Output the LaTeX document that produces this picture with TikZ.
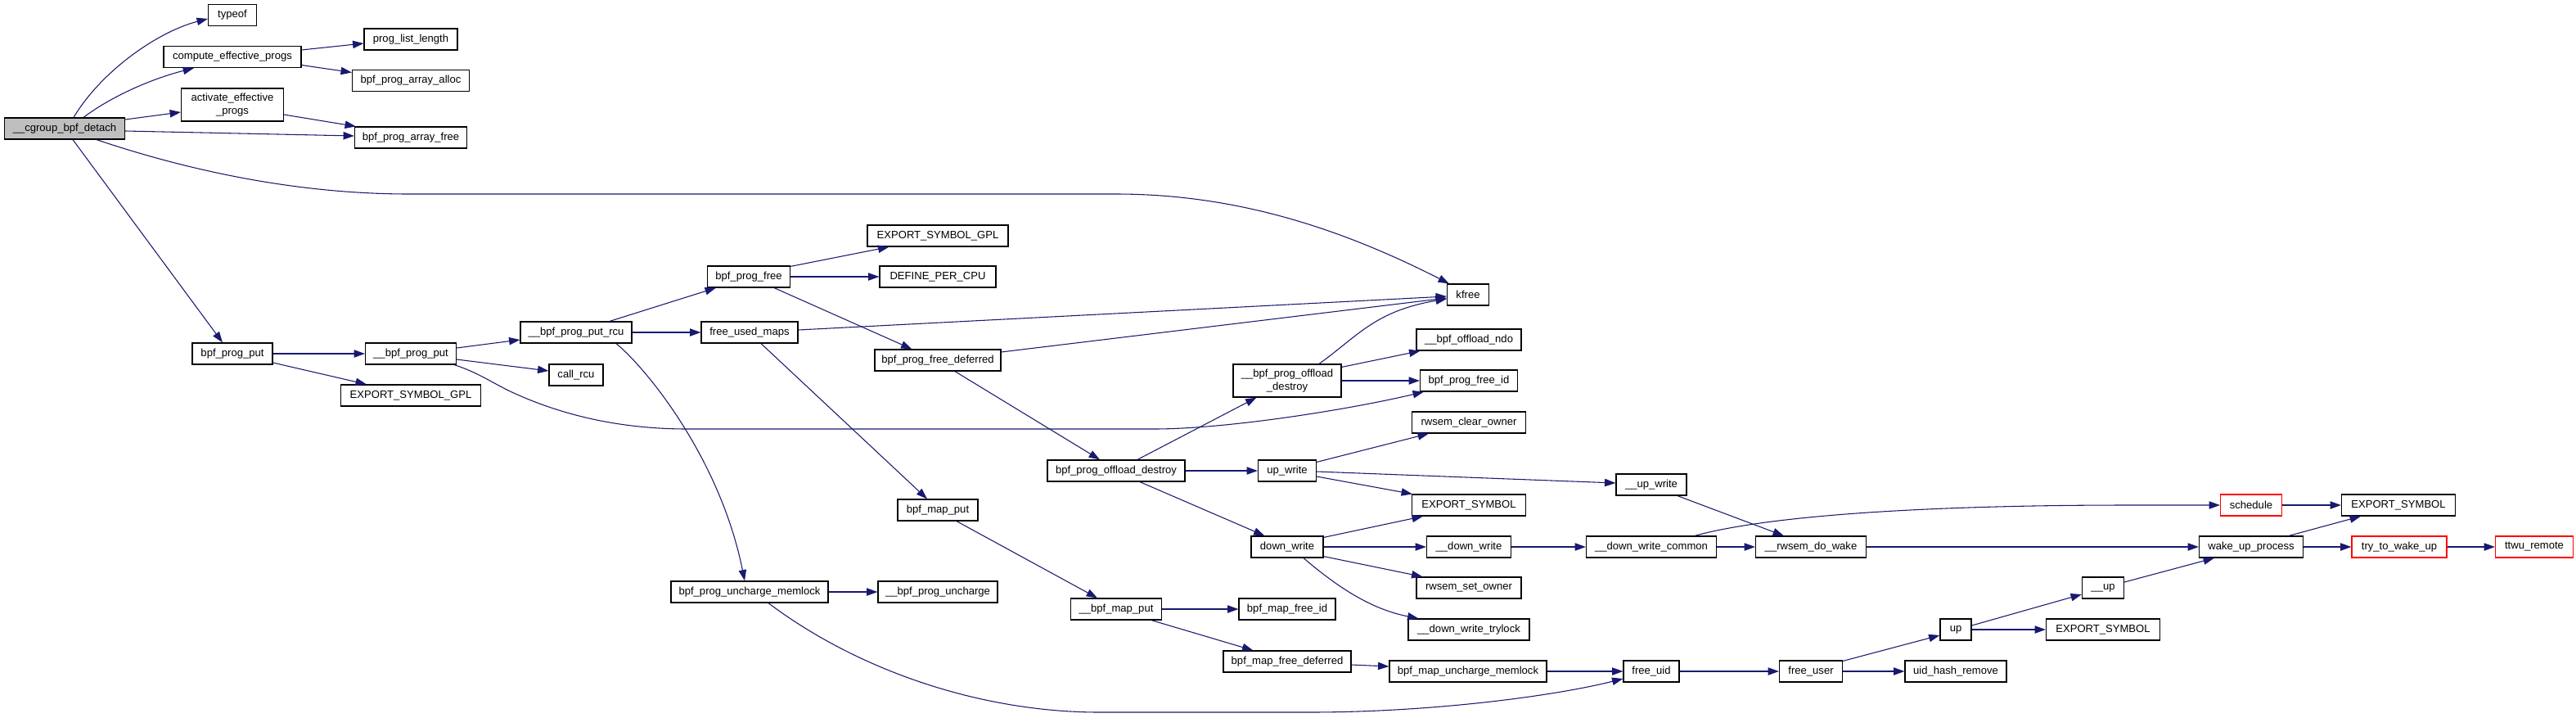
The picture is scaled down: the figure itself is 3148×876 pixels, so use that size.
\documentclass[tikz,border=0pt]{standalone}
\usepackage{fontspec}
\setmainfont{Liberation Sans}
\usetikzlibrary{calc,arrows.meta}
\definecolor{edgeblue}{HTML}{191970}
\definecolor{rootgray}{HTML}{BFBFBF}
\begin{document}
\begin{tikzpicture}[x=0.75pt,y=-0.75pt,
  fn/.style={draw=black,line width=0.9pt,fill=white,minimum height=19.5pt,inner sep=0pt,
    font=\fontsize{9.8}{12.5}\selectfont,text=black,align=center},
  rootfn/.style={fn,fill=rootgray},
  redfn/.style={fn,draw=red},
  twoline/.style={minimum height=30pt},
  call/.style={draw=edgeblue,line width=0.8pt,-{Triangle[length=10pt,width=7pt]},fill=none}]
\useasboundingbox (0,0) rectangle (3148,876);
% nodes
\node[rootfn,minimum width=110.25pt] (cgroup) at (79,157) {\_\_cgroup\_bpf\_detach};
\node[fn,minimum width=44.25pt] (typeof) at (284,18.5) {typeof};
\node[fn,minimum width=126pt] (compute) at (284,69.5) {compute\_effective\_progs};
\node[fn,twoline,minimum width=93.75pt] (activate) at (284,128) {activate\_effective\\\_progs};
\node[fn,minimum width=85.5pt] (plistlen) at (502,48) {prog\_list\_length};
\node[fn,minimum width=107.25pt] (alloc) at (502,98.5) {bpf\_prog\_array\_alloc};
\node[fn,minimum width=102.75pt] (afree) at (502,168) {bpf\_prog\_array\_free};
\node[fn,minimum width=73.5pt] (bpput) at (284,432) {bpf\_prog\_put};
\node[fn,minimum width=83.25pt] (ubpput) at (502,432) {\_\_bpf\_prog\_put};
\node[fn,minimum width=102pt] (rcu) at (704,406) {\_\_bpf\_prog\_put\_rcu};
\node[fn,minimum width=49.5pt] (callrcu) at (704,458) {call\_rcu};
\node[fn,minimum width=128.25pt] (esg1) at (502,483) {EXPORT\_SYMBOL\_GPL};
\node[fn,minimum width=129pt] (esg2) at (1146,288) {EXPORT\_SYMBOL\_GPL};
\node[fn,minimum width=75.75pt] (pfree) at (915,338) {bpf\_prog\_free};
\node[fn,minimum width=106.5pt] (defcpu) at (1146,338) {DEFINE\_PER\_CPU};
\node[fn,minimum width=88.5pt] (fum) at (916,406) {free\_used\_maps};
\node[fn,minimum width=115.5pt] (pfd) at (1146,440) {bpf\_prog\_free\_deferred};
\node[fn,minimum width=38.25pt] (kfree) at (1794,360) {kfree};
\node[fn,minimum width=96pt] (ndo) at (1795,415) {\_\_bpf\_offload\_ndo};
\node[fn,minimum width=126pt] (pod) at (1364,575) {bpf\_prog\_offload\_destroy};
\node[fn,twoline,minimum width=99pt] (ubpod) at (1573,465) {\_\_bpf\_prog\_offload\\\_destroy};
\node[fn,minimum width=73.5pt] (mput) at (1146,623) {bpf\_map\_put};
\node[fn,minimum width=144pt] (pum) at (916,723) {bpf\_prog\_uncharge\_memlock};
\node[fn,minimum width=109.5pt] (puc) at (1146,723) {\_\_bpf\_prog\_uncharge};
\node[fn,minimum width=83.25pt] (umput) at (1364,744) {\_\_bpf\_map\_put};
\node[fn,minimum width=53.25pt] (upw) at (1573,575) {up\_write};
\node[fn,minimum width=66pt] (downw) at (1573,668) {down\_write};
\node[fn,minimum width=88.5pt] (mfid) at (1573,744) {bpf\_map\_free\_id};
\node[fn,minimum width=117pt] (mfd) at (1573,808) {bpf\_map\_free\_deferred};
\node[fn,minimum width=89.25pt] (pfid) at (1795,465) {bpf\_prog\_free\_id};
\node[fn,minimum width=104.25pt] (rco) at (1795,516) {rwsem\_clear\_owner};
\node[fn,minimum width=64.5pt] (uupw) at (2018,592) {\_\_up\_write};
\node[fn,minimum width=104.25pt] (es1) at (1795,617) {EXPORT\_SYMBOL};
\node[fn,minimum width=77.25pt] (udw) at (1795,668) {\_\_down\_write};
\node[fn,minimum width=119.25pt] (udwc) at (2018,668) {\_\_down\_write\_common};
\node[fn,minimum width=101.25pt] (rdw) at (2213,668) {\_\_rwsem\_do\_wake};
\node[fn,minimum width=96pt] (rso) at (1795,718) {rwsem\_set\_owner};
\node[fn,minimum width=111pt] (dwt) at (1795,769) {\_\_down\_write\_trylock};
\node[fn,minimum width=144pt] (mum) at (1794,820) {bpf\_map\_uncharge\_memlock};
\node[fn,minimum width=51pt] (fuid) at (2018,820) {free\_uid};
\node[fn,minimum width=57.75pt] (fuser) at (2213,820) {free\_user};
\node[fn,minimum width=93pt] (uhr) at (2390,820) {uid\_hash\_remove};
\node[redfn,minimum width=56.25pt] (sched) at (2751,617) {schedule};
\node[fn,minimum width=104.25pt] (es2) at (2931,617) {EXPORT\_SYMBOL};
\node[fn,minimum width=95.25pt] (wup) at (2751,668) {wake\_up\_process};
\node[redfn,minimum width=87pt] (ttwu) at (2932,668) {try\_to\_wake\_up};
\node[redfn,minimum width=71.25pt] (ttwur) at (3097,668) {ttwu\_remote};
\node[fn,minimum width=38.25pt] (uup) at (2570,718) {\_\_up};
\node[fn,minimum width=28.5pt] (up) at (2390,769) {up};
\node[fn,minimum width=104.25pt] (es3) at (2570,769) {EXPORT\_SYMBOL};
% edges
\draw[call] ($(cgroup.north)+(11,0)$) .. controls (125,85) and (195,38) .. ($(typeof.west)+(0,4.5)$);
\draw[call] ($(cgroup.north)+(23,0)$) .. controls (140,115) and (190,95) .. ($(compute.south)+(-47,0)$);
\draw[call] ($(cgroup.east)+(0,-11)$) -- ($(activate.west)+(0,9)$);
\draw[call] ($(cgroup.east)+(0,3)$) -- ($(afree.west)+(0,-2)$);
\draw[call] ($(activate.east)+(0,12)$) -- ($(afree.north west)+(2,0)$);
\draw[call] ($(compute.east)+(0,-8.5)$) -- ($(plistlen.west)+(0,5)$);
\draw[call] ($(compute.east)+(0,10)$) -- ($(alloc.west)+(0,-10)$);
\draw[call] ($(cgroup.south)+(39,0)$) .. controls (250,215) and (380,237) .. (500,237) -- (1364,237) .. controls (1520,237) and (1650,285) .. ($(kfree.north west)+(3,0)$);
\draw[call] ($(cgroup.south)+(10,0)$) -- ($(bpput.north)+(-12,0)$);
\draw[call] (bpput.east) -- (ubpput.west);
\draw[call] ($(bpput.east)+(0,11)$) -- ($(esg1.north west)+(32,0)$);
\draw[call] ($(ubpput.east)+(0,-7)$) -- ($(rcu.west)+(0,9)$);
\draw[call] ($(ubpput.east)+(0,7)$) -- ($(callrcu.west)+(0,-5)$);
\draw[call] ($(ubpput.south east)+(-3,0)$) .. controls (585,455) and (605,470) .. (630,481) .. controls (690,508) and (760,524) .. (840,524) -- (1410,524) .. controls (1500,524) and (1650,500) .. ($(pfid.south west)+(5,0)$);
\draw[call] ($(rcu.north)+(41,0)$) -- ($(pfree.south west)+(11,0)$);
\draw[call] (rcu.east) -- (fum.west);
\draw[call] ($(rcu.south)+(49,0)$) .. controls (790,450) and (880,560) .. ($(pum.north)+(-6,0)$);
\draw[call] ($(pfree.north east)+(0,1)$) -- ($(esg2.south west)+(27,0)$);
\draw[call] (pfree.east) -- (defcpu.west);
\draw[call] ($(pfree.south east)+(-20,0)$) -- ($(pfd.north west)+(46,0)$);
\draw[call] ($(fum.east)+(0,-3)$) -- ($(kfree.west)+(0,2)$);
\draw[call] ($(pfd.east)+(0,-10)$) -- ($(kfree.west)+(0,4)$);
\draw[call] ($(fum.south)+(14,0)$) -- ($(mput.north)+(-13,0)$);
\draw[call] ($(pfd.south)+(21,0)$) -- ($(pod.north)+(-20,0)$);
\draw[call] ($(mput.south)+(23,0)$) -- ($(umput.north)+(-23,0)$);
\draw[call] (pum.east) -- (puc.west);
\draw[call] ($(pum.south)+(23,0)$) .. controls (1050,820) and (1200,870) .. (1344,870) -- (1600,870) .. controls (1750,870) and (1900,850) .. ($(fuid.west)+(0,9)$);
\draw[call] ($(pod.north)+(26,0)$) -- ($(ubpod.south west)+(29,0)$);
\draw[call] (pod.east) -- (upw.west);
\draw[call] ($(pod.south)+(29,0)$) -- ($(downw.north west)+(17,0)$);
\draw[call] (umput.east) -- (mfid.west);
\draw[call] ($(umput.south east)+(-13,0)$) -- ($(mfd.north west)+(37,0)$);
\draw[call] ($(ubpod.north)+(39,0)$) .. controls (1660,410) and (1680,380) .. ($(kfree.west)+(0,5)$);
\draw[call] ($(ubpod.north east)+(0,4)$) -- ($(ndo.south west)+(5,0)$);
\draw[call] (ubpod.east) -- (pfid.west);
\draw[call] ($(upw.north east)+(0,3)$) -- ($(rco.south west)+(21,0)$);
\draw[call] ($(upw.east)+(0,1)$) -- ($(uupw.west)+(0,-2)$);
\draw[call] ($(upw.east)+(0,7)$) -- ($(es1.north west)+(1,0)$);
\draw[call] ($(downw.north east)+(0,2)$) -- ($(es1.south west)+(14,0)$);
\draw[call] (downw.east) -- (udw.west);
\draw[call] ($(downw.south east)+(0,-2)$) -- ($(rso.north west)+(8,0)$);
\draw[call] ($(downw.south)+(20,0)$) .. controls (1640,722) and (1680,745) .. ($(dwt.north west)+(13,0)$);
\draw[call] (udw.east) -- (udwc.west);
\draw[call] (udwc.east) -- (rdw.west);
\draw[call] ($(udwc.north)+(53,0)$) .. controls (2160,630) and (2350,617) .. (2600,617) -- (sched.west);
\draw[call] ($(uupw.south)+(32,0)$) -- ($(rdw.north west)+(35,0)$);
\draw[call] (rdw.east) -- (wup.west);
\draw[call] (sched.east) -- (es2.west);
\draw[call] ($(wup.north east)+(-18,0)$) -- ($(es2.south west)+(24,0)$);
\draw[call] (wup.east) -- (ttwu.west);
\draw[call] (ttwu.east) -- (ttwur.west);
\draw[call] ($(uup.east)+(0,-7)$) -- ($(wup.south west)+(19,0)$);
\draw[call] ($(up.east)+(0,-5)$) -- ($(uup.west)+(0,8)$);
\draw[call] (up.east) -- (es3.west);
\draw[call] ($(fuser.north east)+(0,1)$) -- ($(up.west)+(0,7)$);
\draw[call] (fuser.east) -- (uhr.west);
\draw[call] (fuid.east) -- (fuser.west);
\draw[call] (mum.east) -- (fuid.west);
\draw[call] ($(mfd.east)+(0,4)$) -- ($(mum.west)+(0,-6)$);
\end{tikzpicture}
\end{document}
